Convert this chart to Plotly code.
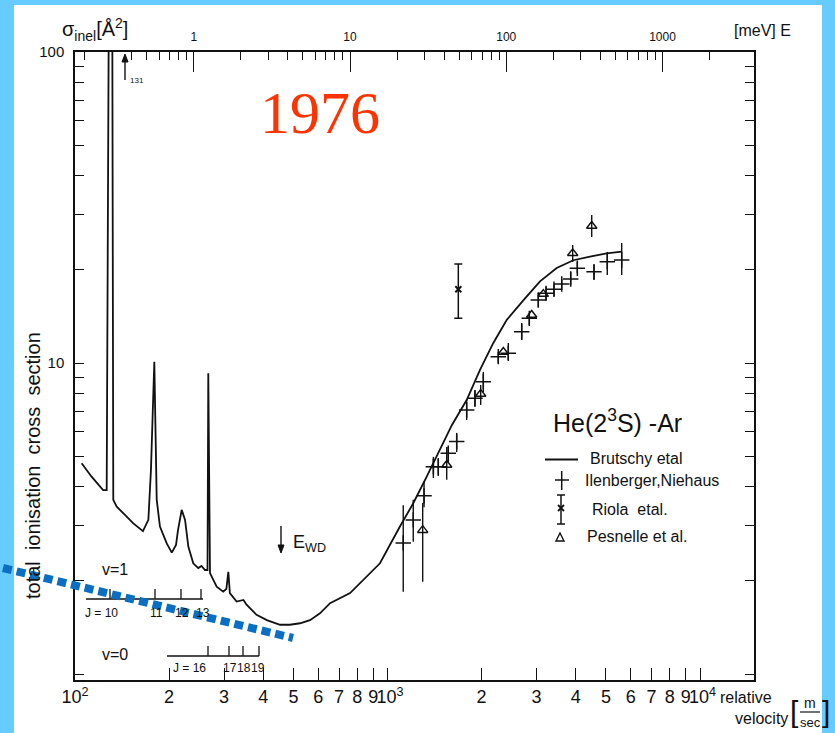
import plotly.graph_objects as go

# ---------------- data ----------------
# Brutschy et al. (solid curve): relative velocity [m/s], sigma [A^2]
curve_velocity = [105, 113, 123, 126.3, 128.5, 131.5, 132.6, 136, 144.5, 153.7, 165, 171.7,
                  175, 179.4, 182.6, 187, 196.6, 204, 210.5, 213.6, 219.5, 225, 230.5, 239,
                  248, 254, 260.6, 265.5, 267, 269.4, 270.4, 284, 298, 305, 309.5, 313, 329,
                  346, 354, 381, 411, 453, 487, 525, 565, 608, 655, 759, 946, 1096, 1209,
                  1335, 1472, 1608, 1792, 1977, 2181, 2406, 2720, 3076, 3478, 3931, 4446,
                  5028, 5616]
curve_sigma = [4.76, 4.31, 3.90, 3.90, 200, 200, 3.63, 3.45, 3.25, 3.05, 2.88, 3.13,
               4.53, 10.1, 3.63, 2.98, 2.63, 2.455, 2.60, 2.90, 3.37, 3.13, 2.57, 2.27,
               2.19, 2.225, 2.16, 2.16, 9.27, 2.16, 2.11, 1.91, 1.84, 1.876, 2.13, 1.82, 1.71,
               1.73, 1.67, 1.55, 1.49, 1.44, 1.44, 1.456, 1.49, 1.567, 1.69, 1.82, 2.27, 2.98, 3.54,
               4.31, 5.25, 6.32, 7.6, 9.5, 11.6, 13.75, 15.9, 18.3, 20.2, 21.4, 22.0,
               22.5, 22.8]

# Ilenberger, Niehaus (+ with error bars)
ilen_velocity = [1123, 1209, 1309, 1402, 1454, 1565, 1665, 1792, 1905, 2026, 2262, 2435,
                 2688, 2843, 3038, 3216, 3410, 3610, 3857, 4050, 4580, 5050, 5616]
ilen_sigma = [2.64, 3.13, 3.74, 4.64, 4.64, 5.13, 5.59, 7.06, 7.70, 8.71, 10.48, 10.74,
              12.61, 13.92, 15.94, 16.75, 17.26, 17.95, 18.63, 20.16, 19.66, 21.17, 21.44]
ilen_upper = [3.49, 3.63, 4.15, 4.99, 4.95, 5.37, 5.96, 7.61, 8.19, 9.36, 10.85, 11.60,
              13.45, 14.48, 16.80, 17.55, 17.95, 18.63, 19.62, 21.12, 20.66, 22.75, 24.31]
ilen_lower = [1.84, 2.66, 3.44, 4.27, 4.33, 4.77, 5.17, 6.56, 7.22, 8.07, 10.0, 10.22,
              11.86, 13.25, 15.14, 15.94, 16.42, 17.17, 17.81, 19.47, 18.49, 19.18, 19.18]

# Riola et al.
riola_velocity = [1685]
riola_sigma = [17.26]
riola_upper = [20.82]
riola_lower = [13.92]

# Pesnelle et al. (triangles)
pes_velocity = [1296, 1547, 1987, 2348, 2893, 3151, 3914, 4503]
pes_sigma = [2.90, 4.70, 7.95, 10.85, 14.27, 16.66, 22.53, 27.58]
pes_upper = [3.55, 5.37, 8.50, 10.85, 14.27, 16.66, 23.96, 29.92]
pes_lower = [1.98, 4.21, 7.33, 10.85, 14.27, 16.66, 21.12, 25.42]

# top axis: log10(E/meV) = offset + 2*log10(v / m/s)
energy_log_offset = -4.76

bottom_tick_values = [100, 200, 300, 400, 500, 600, 700, 800, 900,
                      1000, 2000, 3000, 4000, 5000, 6000, 7000, 8000, 9000, 10000]
bottom_tick_text = ["10<sup>2</sup>", "2", "3", "4", "5", "6", "7", "8", "9",
                    "&nbsp;10<sup>3</sup>", "2", "3", "4", "5", "6", "7", "8", "9",
                    "&nbsp;10<sup>4</sup>"]
top_tick_values = [1, 10, 100, 1000]
top_tick_text = ["1", "10", "100", "1000"]
top_minor_values = [0.2, 0.3, 0.4, 0.5, 0.6, 0.7, 0.8, 0.9, 2, 3, 4, 5, 6, 7, 8, 9,
                    20, 30, 40, 50, 60, 70, 80, 90, 200, 300, 400, 500, 600, 700, 800, 900, 2000]
left_tick_values = [10, 100]
left_tick_text = ["10", "100"]
left_minor_values = [1, 2, 3, 4, 5, 6, 7, 8, 9, 20, 30, 40, 50, 60, 70, 80, 90]

# ---------------- layout geometry ----------------
W, H = 835, 733
L, R, T, B = 75, 754, 52, 680
X_LOG_RANGE = [2, 2 + (R - L) / 312.5]
Y_LOG_RANGE = [2 - (B - T) / 311.0, 2]


def px(x):
    return (x - L) / (R - L)


def py(y):
    return (B - y) / (B - T)


BLACK = "#111111"
FONT = "Liberation Sans, Arial, sans-serif"

fig = go.Figure()

fig.add_trace(go.Scatter(x=curve_velocity, y=curve_sigma, mode="lines",
                         line=dict(color=BLACK, width=1.8), showlegend=False,
                         name="Brutschy etal"))


def err(vals, up, lo):
    return ([u - v for u, v in zip(up, vals)], [v - l for v, l in zip(vals, lo)])


a, am = err(ilen_sigma, ilen_upper, ilen_lower)
fig.add_trace(go.Scatter(x=ilen_velocity, y=ilen_sigma, mode="markers",
                         marker=dict(symbol="cross-thin", size=11, color=BLACK,
                                     line=dict(color=BLACK, width=1.5)),
                         error_y=dict(type="data", symmetric=False, array=a, arrayminus=am,
                                      width=0, thickness=1.4, color=BLACK),
                         showlegend=False, name="Ilenberger, Niehaus"))

a, am = err(riola_sigma, riola_upper, riola_lower)
fig.add_trace(go.Scatter(x=riola_velocity, y=riola_sigma, mode="markers",
                         marker=dict(symbol="x-thin", size=6, color=BLACK,
                                     line=dict(color=BLACK, width=2)),
                         error_y=dict(type="data", symmetric=False, array=a, arrayminus=am,
                                      width=4, thickness=1.5, color=BLACK),
                         showlegend=False, name="Riola etal."))

a, am = err(pes_sigma, pes_upper, pes_lower)
fig.add_trace(go.Scatter(x=pes_velocity, y=pes_sigma, mode="markers",
                         marker=dict(symbol="triangle-up-open", size=9, color=BLACK,
                                     line=dict(color=BLACK, width=1.4)),
                         error_y=dict(type="data", symmetric=False, array=a, arrayminus=am,
                                      width=0, thickness=1.4, color=BLACK),
                         showlegend=False, name="Pesnelle et al."))

# invisible trace to carry the top energy axis
fig.add_trace(go.Scatter(x=top_tick_values, y=[10] * len(top_tick_values), xaxis="x2",
                         mode="markers", marker=dict(opacity=0), hoverinfo="skip",
                         showlegend=False))

# ---------------- shapes ----------------
shapes = []
shapes.append(dict(type="rect", xref="paper", yref="paper", layer="below",
                   x0=px(14), x1=px(822), y0=py(740), y1=py(5),
                   fillcolor="white", line=dict(width=0)))


def seg(x0, y0, x1, y1, w=1.3, color=BLACK, dash=None):
    d = dict(type="line", xref="paper", yref="paper", x0=px(x0), y0=py(y0),
             x1=px(x1), y1=py(y1), line=dict(color=color, width=w))
    if dash:
        d["line"]["dash"] = dash
    shapes.append(d)


def tri(pts, fill=None, w=1.4):
    path = "M " + " L ".join("{},{}".format(px(x), py(y)) for x, y in pts) + " Z"
    d = dict(type="path", xref="paper", yref="paper", path=path,
             line=dict(color=BLACK, width=w))
    if fill:
        d["fillcolor"] = fill
    shapes.append(d)


# J scale v=1
seg(86, 599, 203, 599)
for xx in [110, 155, 181, 201]:
    seg(xx, 599, xx, 589)
# J scale v=0
seg(167, 656, 259, 656)
for xx in [208, 229, 243, 259]:
    seg(xx, 656, xx, 646)

# legend symbols
seg(545, 459.5, 578, 459.5, w=1.8)
seg(555, 480, 569, 480, w=1.5)
seg(561.7, 471, 561.7, 490, w=1.5)
seg(561, 495, 561, 524, w=1.5)
seg(557, 495, 565, 495, w=1.5)
seg(557, 524, 565, 524, w=1.5)
seg(558, 505, 564, 511, w=1.8)
seg(558, 511, 564, 505, w=1.8)
tri([(556, 541), (564, 541), (560, 533)])

# arrows (131 marker and E_WD)
seg(125, 80, 125, 58, w=1.4)
tri([(122, 62), (128, 62), (125, 54)], fill=BLACK, w=1)
seg(281, 526, 281, 549, w=1.4)
tri([(278, 545), (284, 545), (281, 553)], fill=BLACK, w=1)

# m / sec fraction
seg(800, 712, 820, 712, w=1.2)

# blue dotted overlay line
seg(3, 568, 293, 638, w=8, color="#0a6fc2", dash="9px,5px")

# ---------------- annotations ----------------
ann = []


def txt(x, y, s, size=15, xanchor="left", yanchor="middle", family=FONT, color=BLACK,
        angle=0):
    ann.append(dict(x=px(x), y=py(y), xref="paper", yref="paper", text=s, showarrow=False,
                    xanchor=xanchor, yanchor=yanchor, textangle=angle,
                    font=dict(size=size, family=family, color=color)))


txt(60, 29, "σ<sub>inel</sub>[Å<sup>2</sup>]", size=20)
txt(320, 113, "1976", size=60, xanchor="center", family="Liberation Serif, Times New Roman, serif",
    color="#ff3300")
txt(732, 31, "[meV] E", size=16)
txt(137, 80, "131", size=8, xanchor="center")
txt(83, 613, "J = 10", size=12)
txt(156, 613, "11", size=12, xanchor="center")
txt(182, 613, "12", size=12, xanchor="center")
txt(203, 613, "13", size=12, xanchor="center")
txt(100, 569, "v=1", size=16)
txt(100, 654, "v=0", size=16)
txt(171, 668, "J = 16", size=12)
txt(230, 668, "17", size=12, xanchor="center")
txt(244, 668, "18", size=12, xanchor="center")
txt(258, 668, "19", size=12, xanchor="center")
txt(291, 543, "E<sub>WD</sub>", size=18)
txt(33, 466, "total  ionisation  cross  section", size=20, xanchor="center", angle=-90)
txt(551, 421, "He(2<sup>3</sup>S) -Ar", size=25)
txt(588, 458, "Brutschy etal", size=16)
txt(583, 480, "Ilenberger,Niehaus", size=16)
txt(590, 509, "Riola  etal.", size=16)
txt(585, 536, "Pesnelle et al.", size=16)
txt(718, 697, "relative", size=16)
txt(733, 718, "velocity", size=16)
txt(794, 711, "[", size=30, xanchor="center")
txt(826, 711, "]", size=30, xanchor="center")
txt(810, 703, "m", size=14, xanchor="center")
txt(810, 722, "sec", size=13, xanchor="center")

axis_common = dict(showgrid=False, zeroline=False, showline=True, linecolor=BLACK,
                   linewidth=1.5, tickcolor=BLACK, tickwidth=1.4)

fig.update_layout(
    width=W, height=H, autosize=False,
    margin=dict(l=L, r=W - R, t=T, b=H - B, pad=0, autoexpand=False),
    paper_bgcolor="#66ccff", plot_bgcolor="white",
    font=dict(family=FONT, color=BLACK),
    xaxis=dict(type="log", range=X_LOG_RANGE, tickmode="array", tickvals=bottom_tick_values,
               ticktext=bottom_tick_text, ticks="inside", ticklen=12, tickangle=0,
               tickfont=dict(size=18, family=FONT, color=BLACK), mirror=False,
               **axis_common),
    xaxis2=dict(type="log", overlaying="x", side="top", anchor="y",
                range=[energy_log_offset + 2 * X_LOG_RANGE[0],
                       energy_log_offset + 2 * X_LOG_RANGE[1]],
                tickmode="array", tickvals=top_tick_values, ticktext=top_tick_text,
                ticks="inside", ticklen=20, ticklabelstandoff=4, tickangle=0,
                tickfont=dict(size=12, family=FONT, color=BLACK),
                minor=dict(tickmode="array", tickvals=top_minor_values, ticks="inside",
                           ticklen=8, tickcolor=BLACK, tickwidth=1.4, showgrid=False),
                **axis_common),
    yaxis=dict(type="log", range=Y_LOG_RANGE, tickmode="array", tickvals=left_tick_values,
               ticktext=left_tick_text, ticks="inside", ticklen=9, mirror="ticks",
               ticklabelstandoff=6,
               minor=dict(tickmode="array", tickvals=left_minor_values, ticks="inside",
                          ticklen=9, tickcolor=BLACK, tickwidth=1.4, showgrid=False),
               tickfont=dict(size=15, family=FONT, color=BLACK), **axis_common),
    shapes=shapes,
    annotations=ann,
)

fig.write_html("out.html", config={"displayModeBar": False},
               post_script="document.body.style.margin='0px';"
                           "document.body.style.overflow='hidden';")
